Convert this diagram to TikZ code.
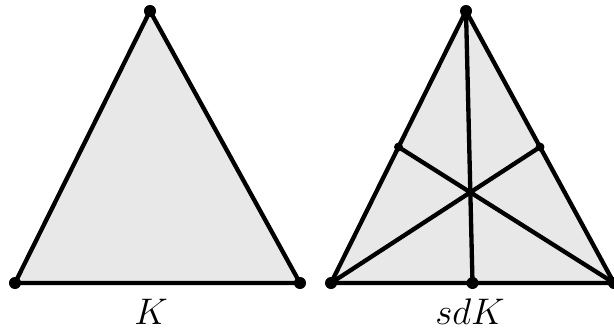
\documentclass[tikz,border=0pt]{standalone}
\usepackage{amsmath,amssymb}
\usepackage{xcolor}
\usepackage{tikz}
\usetikzlibrary{calc}
\definecolor{cFace}{HTML}{E8E8E8}
\definecolor{cEdge}{HTML}{000000}
\tikzset{
  fig/face/.style ={fill=cFace, draw=cEdge, line width=1.4pt, line join=round},
  fig/edge/.style ={draw=cEdge, line width=1.4pt},
  fig/vert/.style ={circle, fill=cEdge, inner sep=0pt, minimum size=3.9pt},
  fig/subvert/.style={fig/vert, minimum size=2.9pt},
  fig/label/.style={font=\large, text=cEdge}
}

\begin{document}
\begin{tikzpicture}[x=0.0114cm, y=-0.0114cm]
    \useasboundingbox (0,0) rectangle (614,329);
    % --- left: the simplex K ---
    \coordinate (ka) at (15,283);
    \coordinate (kb) at (300,283);
    \coordinate (kc) at (150,11);
    \draw[fig/face] (ka) -- (kb) -- (kc) -- cycle;
    \foreach \p in {ka,kb,kc} {
      \node[fig/vert] (d\p) at (\p) {};
    }
    \node[fig/label] (klab) at (151,312) {$K$};
    % --- right: its barycentric subdivision sdK ---
    \coordinate (sa) at (331,283);
    \coordinate (sb) at (614,283);
    \coordinate (sc) at (466,11);
    \coordinate (mab) at ($(sa)!0.5!(sb)$);
    \coordinate (mbc) at ($(sb)!0.5!(sc)$);
    \coordinate (mca) at ($(sc)!0.5!(sa)$);
    \coordinate (bar) at ($1/3*(sa)+1/3*(sb)+1/3*(sc)$);
    \draw[fig/face] (sa) -- (sb) -- (sc) -- cycle;
    % medians, vertex to opposite midpoint
    \draw[fig/edge] (sa) -- (mbc);
    \draw[fig/edge] (sb) -- (mca);
    \draw[fig/edge] (sc) -- (mab);
    \foreach \p in {sa,sb,sc,mab} {
      \node[fig/vert] (d\p) at (\p) {};
    }
    \foreach \p in {mbc,mca,bar} {
      \node[fig/subvert] (d\p) at (\p) {};
    }
    \node[fig/label] (slab) at (470,312) {$sdK$};
\end{tikzpicture}
\end{document}
